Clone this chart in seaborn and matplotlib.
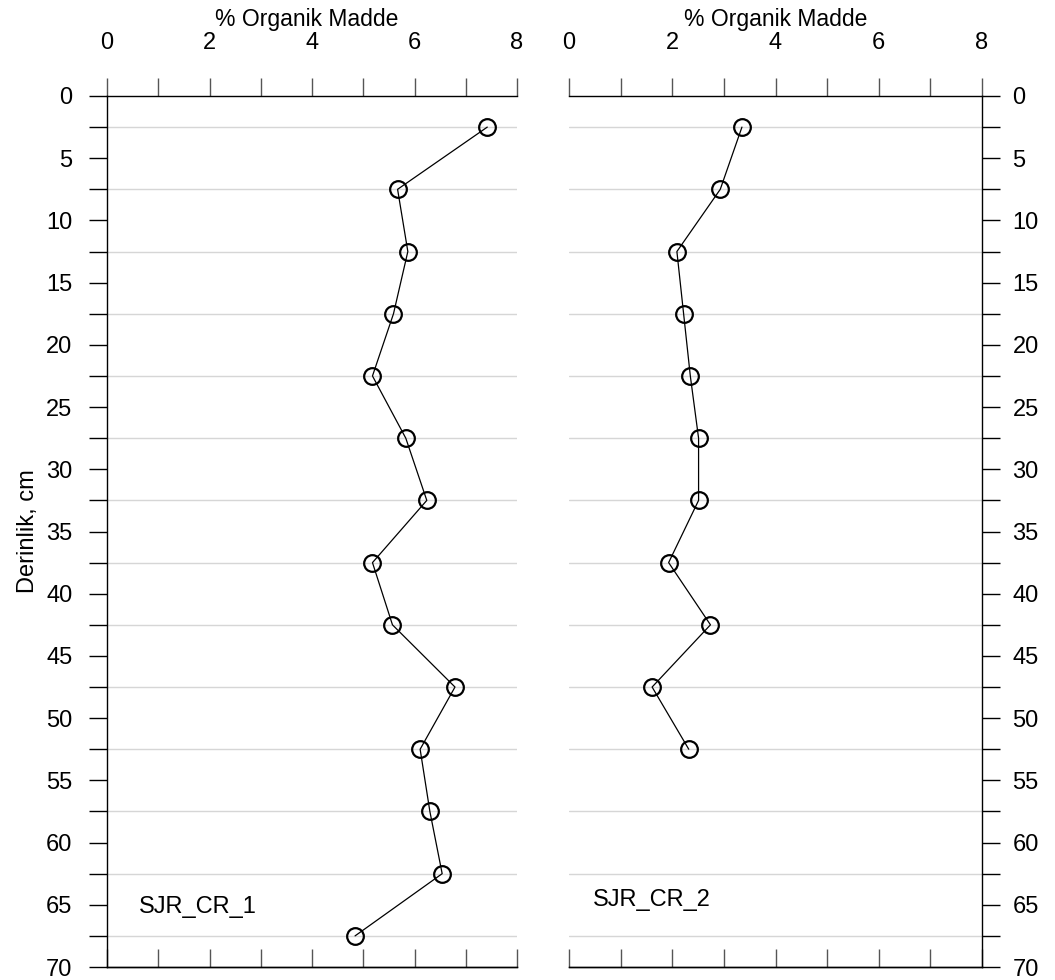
import matplotlib
matplotlib.use("Agg")
import matplotlib.pyplot as plt
from matplotlib.ticker import MultipleLocator
import numpy as np
import pandas as pd
import seaborn as sns

# Organic matter (%) by depth for two sediment cores
depth_cr1 = [2.5, 7.5, 12.5, 17.5, 22.5, 27.5, 32.5, 37.5, 42.5, 47.5, 52.5, 57.5, 62.5, 67.5]
om_cr1 = [7.42, 5.67, 5.87, 5.59, 5.18, 5.83, 6.24, 5.18, 5.57, 6.79, 6.11, 6.30, 6.54, 4.84]

depth_cr2 = [2.5, 7.5, 12.5, 17.5, 22.5, 27.5, 32.5, 37.5, 42.5, 47.5, 52.5]
om_cr2 = [3.35, 2.93, 2.09, 2.22, 2.35, 2.51, 2.51, 1.93, 2.74, 1.61, 2.32]

core_names = ["SJR_CR_1", "SJR_CR_2"]
x_label = "% Organik Madde"
y_label = "Derinlik, cm"

sns.set_style("white")
plt.rcParams["font.family"] = ["Liberation Sans", "DejaVu Sans"]
plt.rcParams["text.color"] = "black"
plt.rcParams["axes.labelcolor"] = "black"
plt.rcParams["xtick.color"] = "black"
plt.rcParams["ytick.color"] = "black"

fig = plt.figure(figsize=(10.55, 9.8), dpi=100)
W, H = 1055, 980
bottom = 1 - 967 / H
height = 871 / H
ax1 = fig.add_axes([107 / W, bottom, 410 / W, height])
ax2 = fig.add_axes([569 / W, bottom, 413 / W, height])

TICK_LEN = 13
FS = 17


def draw_core(ax, om, depth, name, name_xy, side, xlabel_x):
    df = pd.DataFrame({"om": om, "depth": depth})
    sns.lineplot(data=df, x="om", y="depth", orient="y", sort=False, ax=ax,
                 color="black", lw=0.9, marker="o", markersize=12,
                 markerfacecolor="none", markeredgecolor="black",
                 markeredgewidth=1.6, zorder=3)
    ax.set_xlim(0, 8)
    ax.set_ylim(70, 0)

    # x axis: labelled scale on top, inward ticks along the bottom edge
    ax.xaxis.set_major_locator(MultipleLocator(2))
    ax.xaxis.set_minor_locator(MultipleLocator(1))
    ax.tick_params(axis="x", which="both", top=True, bottom=False,
                   labeltop=True, labelbottom=False, direction="out",
                   length=TICK_LEN, width=1, color="#555555",
                   labelcolor="black", pad=17, labelsize=FS)
    sec = ax.secondary_xaxis("bottom")
    sec.set_xticks(np.arange(0, 9, 1))
    sec.tick_params(direction="in", length=TICK_LEN, width=1,
                    color="#555555", labelbottom=False)
    sec.spines["bottom"].set_color("black")
    sec.spines["bottom"].set_linewidth(1)

    ax.xaxis.set_label_position("top")
    ax.set_xlabel(x_label, fontsize=16.5)
    ax.xaxis.label.set_va("baseline")
    ax.xaxis.set_label_coords(xlabel_x, 1 + 70 / 871)

    # y axis: depth, increasing downward
    ax.yaxis.set_major_locator(MultipleLocator(5))
    ax.yaxis.set_minor_locator(MultipleLocator(2.5))
    ax.grid(False)
    ax.yaxis.grid(True, which="minor", color="#d6d6d6", lw=1)
    ax.set_axisbelow(True)

    if side == "left":
        ax.tick_params(axis="y", which="both", left=True, right=False,
                       labelleft=True, labelright=False, direction="out",
                       length=TICK_LEN, width=1, color="black",
                       pad=12, labelsize=FS)
        ax.spines["right"].set_visible(False)
        ax.set_ylabel(y_label, fontsize=FS)
        ax.yaxis.set_label_coords(-0.166, 0.5)
    else:
        ax.yaxis.tick_right()
        ax.tick_params(axis="y", which="both", left=False, right=True,
                       labelleft=False, labelright=True, direction="out",
                       length=TICK_LEN, width=1, color="black",
                       pad=9, labelsize=FS)
        ax.spines["left"].set_visible(False)
        ax.set_ylabel("")
    for s in ["top", "bottom", "left", "right"]:
        ax.spines[s].set_color("black")
        ax.spines[s].set_linewidth(1)

    ax.text(name_xy[0], name_xy[1], name, ha="left", va="center", fontsize=FS)


draw_core(ax1, om_cr1, depth_cr1, core_names[0], (0.62, 65.2), "left", 0.488)
draw_core(ax2, om_cr2, depth_cr2, core_names[1], (0.46, 64.6), "right", 0.5)

fig.savefig("out.png", dpi=100)
